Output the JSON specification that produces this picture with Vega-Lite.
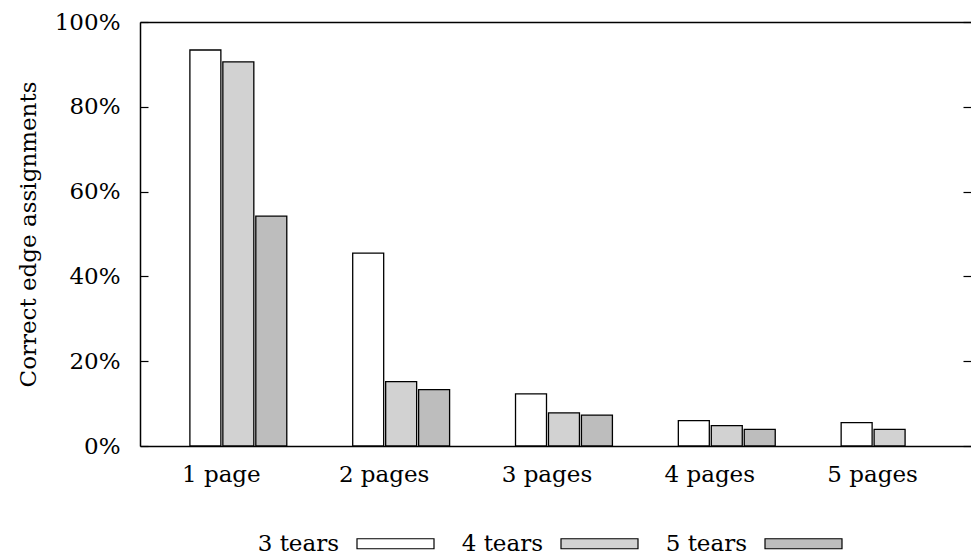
{
  "$schema": "https://vega.github.io/schema/vega-lite/v6.json",
  "autosize": {"type": "none"},
  "padding": {"left": 140, "top": 22, "right": 0, "bottom": 110},
  "width": 831,
  "height": 424,
  "background": "white",
  "config": {
    "font": "DejaVu Serif",
    "view": {"stroke": null},
    "axis": {"labelFont": "DejaVu Serif", "titleFont": "DejaVu Serif", "labelColor": "black", "titleColor": "black", "labelFontSize": 23, "titleFontSize": 23, "titleFontWeight": "normal", "grid": false, "domainColor": "black", "domainWidth": 1.5, "tickColor": "black", "tickWidth": 1.2},
    "legend": {"labelFont": "DejaVu Serif", "labelColor": "black", "labelFontSize": 23}
  },
  "data": {
    "values": [
      {"pages": "1 page", "tears": "3 tears", "value": 0.934},
      {"pages": "1 page", "tears": "4 tears", "value": 0.906},
      {"pages": "1 page", "tears": "5 tears", "value": 0.542},
      {"pages": "2 pages", "tears": "3 tears", "value": 0.455},
      {"pages": "2 pages", "tears": "4 tears", "value": 0.152},
      {"pages": "2 pages", "tears": "5 tears", "value": 0.133},
      {"pages": "3 pages", "tears": "3 tears", "value": 0.123},
      {"pages": "3 pages", "tears": "4 tears", "value": 0.078},
      {"pages": "3 pages", "tears": "5 tears", "value": 0.073},
      {"pages": "4 pages", "tears": "3 tears", "value": 0.06},
      {"pages": "4 pages", "tears": "4 tears", "value": 0.048},
      {"pages": "4 pages", "tears": "5 tears", "value": 0.039},
      {"pages": "5 pages", "tears": "3 tears", "value": 0.055},
      {"pages": "5 pages", "tears": "4 tears", "value": 0.039}
    ]
  },
  "resolve": {"axis": {"x": "independent", "y": "independent"}},
  "layer": [
    {
      "mark": {"type": "bar", "stroke": "black", "strokeWidth": 1.3},
      "encoding": {
        "x": {"field": "pages", "type": "nominal", "sort": ["1 page", "2 pages", "3 pages", "4 pages", "5 pages"],
          "scale": {"paddingInner": 0, "paddingOuter": 0.052, "align": 1},
          "axis": {"title": null, "labelAngle": 0, "ticks": false, "labelPadding": 17, "labelOffset": -17, "orient": "bottom"}},
        "xOffset": {"field": "tears", "type": "nominal", "scale": {"paddingInner": 0.06, "paddingOuter": 1.0}},
        "y": {"field": "value", "type": "quantitative", "stack": null,
          "scale": {"domain": [0, 1], "nice": false},
          "axis": {"title": "Correct edge assignments", "format": ".0%", "values": [0, 0.2, 0.4, 0.6, 0.8, 1], "tickSize": -8, "labelPadding": 28, "titlePadding": 14, "orient": "left"}},
        "fill": {"field": "tears", "type": "nominal",
          "scale": {"domain": ["3 tears", "4 tears", "5 tears"], "range": ["#ffffff", "#d2d2d2", "#bdbdbd"]},
          "legend": {"title": null, "orient": "none", "direction": "horizontal", "legendX": 216, "legendY": 482, "padding": 0,
            "symbolType": "M-1,-0.13H1V0.13H-1Z", "symbolSize": 5929, "symbolStrokeColor": "black", "symbolStrokeWidth": 1.2, "symbolOpacity": 1,
            "labelAlign": "right", "labelOffset": -96, "labelLimit": 0, "columnPadding": 24}}
      }
    },
    {
      "mark": {"type": "bar", "opacity": 0},
      "encoding": {
        "x": {"field": "pages", "type": "nominal", "sort": ["1 page", "2 pages", "3 pages", "4 pages", "5 pages"],
          "axis": {"title": null, "labels": false, "ticks": false, "orient": "top"}},
        "xOffset": {"field": "tears", "type": "nominal"},
        "y": {"field": "value", "type": "quantitative", "stack": null,
          "axis": {"title": null, "labels": false, "domain": false, "values": [0, 0.2, 0.4, 0.6, 0.8, 1], "tickSize": -8, "orient": "right"}}
      }
    }
  ]
}
